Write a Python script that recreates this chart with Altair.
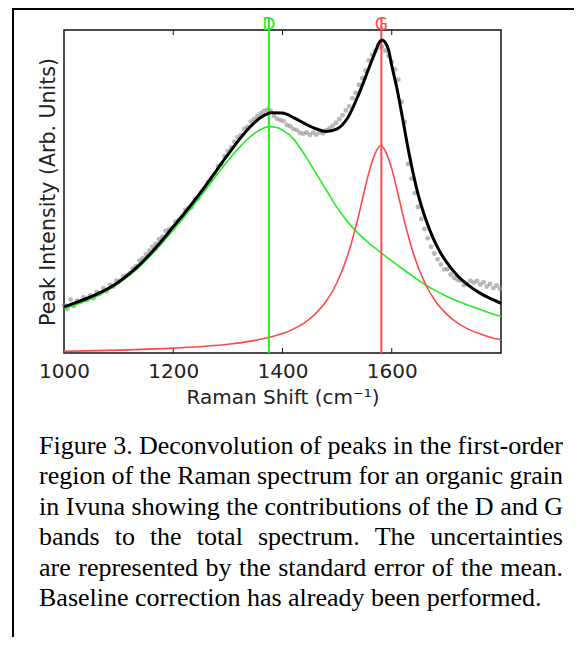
import altair as alt
import pandas as pd

# ---------------- data ----------------
# measured points (grey dots)
DOT_X = [1000, 1006, 1012, 1018, 1024, 1030, 1036, 1042, 1048, 1054, 1060, 1066, 1072, 1078, 1084, 1090,
         1096, 1102, 1108, 1114, 1120, 1126, 1132, 1138, 1144, 1150, 1156, 1162, 1168, 1174, 1180, 1186,
         1192, 1198, 1204, 1210, 1216, 1222, 1228, 1234, 1240, 1246, 1252, 1258, 1264, 1270, 1276, 1282,
         1288, 1294, 1300, 1306, 1312, 1318, 1324, 1330, 1336, 1342, 1348, 1354, 1360, 1366, 1372, 1378,
         1384, 1390, 1396, 1402, 1408, 1414, 1420, 1426, 1432, 1438, 1444, 1450, 1456, 1462, 1468, 1474,
         1480, 1486, 1492, 1498, 1504, 1510, 1516, 1522, 1528, 1534, 1540, 1546, 1552, 1558, 1564, 1570,
         1576, 1582, 1588, 1594, 1600, 1606, 1612, 1618, 1624, 1630, 1636, 1642, 1648, 1654, 1660, 1666,
         1672, 1678, 1684, 1690, 1696, 1702, 1708, 1714, 1720, 1726, 1732, 1738, 1744, 1750, 1756, 1762,
         1768, 1774, 1780, 1786, 1792, 1798]
DOT_Y = [14.9, 13.6, 16.6, 14.5, 16.2, 15.8, 17.3, 16.4, 17.9, 16.9, 18.9, 18.4, 20.1, 19.2, 21.1, 20.6,
         22.4, 22.3, 23.7, 24.0, 24.7, 26.2, 26.9, 28.6, 29.3, 30.5, 31.7, 32.9, 33.8, 35.2, 36.0, 37.8,
         38.2, 38.7, 40.6, 41.1, 42.0, 44.3, 44.9, 45.2, 47.8, 48.0, 49.9, 51.1, 52.8, 53.6, 55.4, 57.9,
         58.4, 60.9, 62.5, 63.6, 65.4, 66.8, 67.5, 69.4, 70.0, 71.6, 72.4, 73.3, 74.2, 74.9, 75.3, 75.0,
         73.4, 72.5, 72.1, 71.8, 70.6, 70.2, 69.3, 69.0, 68.1, 67.9, 68.3, 67.5, 68.2, 67.6, 68.4, 68.0,
         69.0, 69.5, 70.4, 71.3, 72.4, 73.6, 75.1, 76.3, 78.9, 80.5, 83.0, 85.1, 87.4, 90.6, 92.3, 93.6,
         94.6, 94.8, 93.6, 92.0, 90.2, 87.8, 84.6, 77.8, 71.5, 58.5, 54.0, 49.5, 45.2, 41.5, 38.4, 35.5,
         32.9, 30.8, 29.0, 27.4, 25.9, 25.9, 24.3, 23.3, 22.7, 22.4, 21.0, 21.3, 22.4, 21.8, 22.3, 21.2,
         21.9, 20.6, 21.4, 20.1, 20.9, 19.9]

# total fit (black)
TOT_X = [1000, 1020, 1040, 1060, 1080, 1100, 1120, 1140, 1160, 1180, 1200, 1220, 1240, 1260, 1280, 1300,
         1320, 1340, 1360, 1380, 1400, 1420, 1440, 1460, 1480, 1500, 1520, 1540, 1560, 1570, 1576, 1582,
         1588, 1594, 1600, 1610, 1620, 1630, 1640, 1650, 1660, 1670, 1680, 1690, 1700, 1720, 1740, 1760,
         1780, 1800]
TOT_Y = [14.3, 15.5, 16.8, 18.2, 19.9, 22.0, 24.6, 27.6, 31.1, 35.0, 39.1, 43.2, 47.5, 52.0, 56.7, 61.4,
         65.9, 69.9, 72.9, 74.4, 74.3, 72.9, 71.1, 69.5, 68.6, 69.4, 73.0, 80.3, 89.0, 93.3, 95.8, 96.9,
         96.2, 93.9, 89.0, 81.5, 72.5, 63.2, 55.0, 48.0, 42.5, 37.9, 34.0, 30.8, 28.2, 24.0, 21.0, 18.7,
         16.9, 15.4]

# D band component (green)
D_X = [1000, 1020, 1040, 1060, 1080, 1100, 1120, 1140, 1160, 1180, 1200, 1220, 1240, 1260, 1280, 1300,
       1320, 1340, 1360, 1375, 1390, 1400, 1420, 1440, 1460, 1480, 1500, 1520, 1540, 1560, 1580, 1600,
       1620, 1640, 1660, 1680, 1700, 1720, 1740, 1760, 1780, 1800]
D_Y = [13.8, 14.9, 16.2, 17.6, 19.4, 21.6, 24.1, 27.0, 30.4, 34.1, 38.0, 42.2, 46.4, 50.7, 55.2, 59.5,
       63.5, 66.8, 69.2, 70.1, 69.8, 69.0, 66.3, 61.5, 56.0, 50.5, 45.0, 40.5, 36.8, 33.8, 31.1, 28.5,
       26.0, 23.6, 21.3, 19.3, 17.6, 16.1, 14.8, 13.6, 12.4, 11.3]

# G band component (red)
G_X = [1000, 1100, 1200, 1300, 1350, 1400, 1420, 1440, 1460, 1480, 1500, 1520, 1540, 1550, 1560, 1570,
       1575, 1580, 1585, 1590, 1600, 1610, 1620, 1640, 1660, 1680, 1700, 1720, 1740, 1760, 1780, 1800]
G_Y = [0.5, 0.9, 1.5, 2.7, 3.9, 6.0, 7.4, 9.3, 12.1, 16.0, 21.9, 30.6, 43.0, 50.3, 57.0, 61.9,
       63.5, 64.3, 63.5, 61.9, 57.0, 50.3, 43.0, 30.6, 21.9, 16.0, 12.1, 9.3, 7.4, 6.0, 4.9, 4.1]

# band positions
BAND_NAMES = ["D", "G"]
BAND_POS = [1375, 1581]
BAND_COLORS = ["#22ee22", "#ff4848"]

# axis ticks
TICK_LABELS = [1000, 1200, 1400, 1600]
TICK_MARKS = [1200, 1400, 1600]

CAPTION_LINES = [
    "Figure 3. Deconvolution of peaks in the first-order",
    "region of the Raman spectrum for an organic grain",
    "in Ivuna showing the contributions of the D and G",
    "bands to the total spectrum. The uncertainties",
    "are represented by the standard error of the mean.",
    "Baseline correction has already been performed.",
]

# ---------------- layout / style ----------------
W, H = 437, 323
FONT = "DejaVu Sans"
TXT = "#222222"

# Times (Liberation Serif) advance widths per 1000 em, for justifying the caption
CW = {" ": 250, ".": 250, "-": 333, ",": 250, "3": 500,
      "A": 722, "B": 667, "D": 722, "F": 556, "G": 722, "I": 333, "R": 667, "T": 611,
      "a": 444, "b": 500, "c": 444, "d": 500, "e": 444, "f": 333, "g": 500, "h": 500, "i": 278,
      "k": 500, "l": 278, "m": 778, "n": 500, "o": 500, "p": 500, "r": 333, "s": 389, "t": 278,
      "u": 500, "v": 500, "w": 722, "y": 500}
CAP_SIZE = 26
CAP_LEFT, CAP_RIGHT = -25, 499
CAP_BASE0, CAP_STEP = 423.5, 30.5


def tw(s):
    return sum(CW.get(c, 500) for c in s) * CAP_SIZE / 1000.0


left_words, right_words = [], []
for i, line in enumerate(CAPTION_LINES):
    yb = CAP_BASE0 + i * CAP_STEP
    words = line.split(" ")
    if i == len(CAPTION_LINES) - 1:
        left_words.append({"px": CAP_LEFT, "py": yb, "w": line})
        continue
    widths = [tw(w) for w in words]
    gap = (CAP_RIGHT - CAP_LEFT - sum(widths)) / (len(words) - 1)
    x = CAP_LEFT
    for j, w in enumerate(words):
        if j == len(words) - 1:
            right_words.append({"px": CAP_RIGHT, "py": yb, "w": w})
        else:
            left_words.append({"px": x, "py": yb, "w": w})
        x += widths[j] + gap

xscale = alt.Scale(domain=[1000, 1800], nice=False, zero=False)
yscale = alt.Scale(domain=[0, 100], nice=False, zero=False)

x_axis = alt.Axis(values=TICK_LABELS, format="d", ticks=False, tickSize=0, domain=False, grid=False,
                  labelFlush=False, labelOverlap=False, labelBound=False,
                  labelFont=FONT, labelFontSize=20, labelColor=TXT, labelPadding=8,
                  title="Raman Shift (cm⁻¹)", titleFont=FONT, titleFontSize=20,
                  titleFontWeight="normal", titleColor=TXT, titlePadding=6)
y_axis = alt.Axis(labels=False, ticks=False, domain=False, grid=False,
                  title="Peak Intensity (Arb. Units)", titleFont=FONT, titleFontSize=20.5,
                  titleFontWeight="normal", titleColor=TXT, titlePadding=6)


def X(f):
    return alt.X(f, type="quantitative", scale=xscale, axis=x_axis)


def Y(f):
    return alt.Y(f, type="quantitative", scale=yscale, axis=y_axis)


dots_df = pd.DataFrame({"x": DOT_X, "y": DOT_Y})
tot_df = pd.DataFrame({"x": TOT_X, "y": TOT_Y})
d_df = pd.DataFrame({"x": D_X, "y": D_Y})
g_df = pd.DataFrame({"x": G_X, "y": G_Y})
band_df = pd.DataFrame({"band": BAND_NAMES, "pos": BAND_POS, "color": BAND_COLORS})
tick_df = pd.DataFrame({"t": TICK_MARKS})
capL_df = pd.DataFrame(left_words)
capR_df = pd.DataFrame(right_words)
border_df = pd.DataFrame({"k": [0]})

ticks_bottom = alt.Chart(tick_df).mark_rule(color="#111111", strokeWidth=1).encode(
    x=X("t"), y=alt.value(H), y2=alt.value(H - 5))
ticks_top = alt.Chart(tick_df).mark_rule(color="#111111", strokeWidth=1).encode(
    x=X("t"), y=alt.value(0), y2=alt.value(5))

dots = alt.Chart(dots_df).mark_circle(size=24, color="#8a8a8a", opacity=0.6).encode(x=X("x"), y=Y("y"))
green = alt.Chart(d_df).mark_line(color="#22ee22", strokeWidth=1.6, interpolate="monotone").encode(
    x=X("x"), y=Y("y"))
red = alt.Chart(g_df).mark_line(color="#ff4848", strokeWidth=1.6, interpolate="monotone").encode(
    x=X("x"), y=Y("y"))
vlines = alt.Chart(band_df).mark_rule(strokeWidth=2).encode(
    x=X("pos"), y=alt.value(-12), y2=alt.value(H), color=alt.Color("color:N", scale=None))
black = alt.Chart(tot_df).mark_line(color="black", strokeWidth=3, interpolate="monotone").encode(
    x=X("x"), y=Y("y"))
band_txt = alt.Chart(band_df).mark_text(font=FONT, fontSize=17, align="center", baseline="alphabetic").encode(
    x=X("pos"), y=alt.value(0), text="band:N", color=alt.Color("color:N", scale=None))

capL = alt.Chart(capL_df).mark_text(font="Liberation Serif", fontSize=CAP_SIZE, align="left",
                                    baseline="alphabetic", color="black").encode(
    x=alt.X("px:Q", scale=None, axis=None), y=alt.Y("py:Q", scale=None, axis=None), text="w:N")
capR = alt.Chart(capR_df).mark_text(font="Liberation Serif", fontSize=CAP_SIZE, align="right",
                                    baseline="alphabetic", color="black").encode(
    x=alt.X("px:Q", scale=None, axis=None), y=alt.Y("py:Q", scale=None, axis=None), text="w:N")

border_left = alt.Chart(border_df).mark_rule(color="black", strokeWidth=2).encode(
    x=alt.value(-51), y=alt.value(-22), y2=alt.value(610))
border_top = alt.Chart(border_df).mark_rule(color="black", strokeWidth=2).encode(
    x=alt.value(-51), x2=alt.value(510), y=alt.value(-21))

chart = alt.layer(
    ticks_bottom, ticks_top, dots, green, red, vlines, black, band_txt, capL, capR, border_left, border_top
).properties(
    width=W, height=H,
    autosize=alt.AutoSizeParams(type="none"),
    padding={"left": 56, "top": 22, "right": 73, "bottom": 284},
).configure_view(stroke="#111111", strokeWidth=1.5)

chart.save("out.html", embed_options={"renderer": "svg", "actions": False})
